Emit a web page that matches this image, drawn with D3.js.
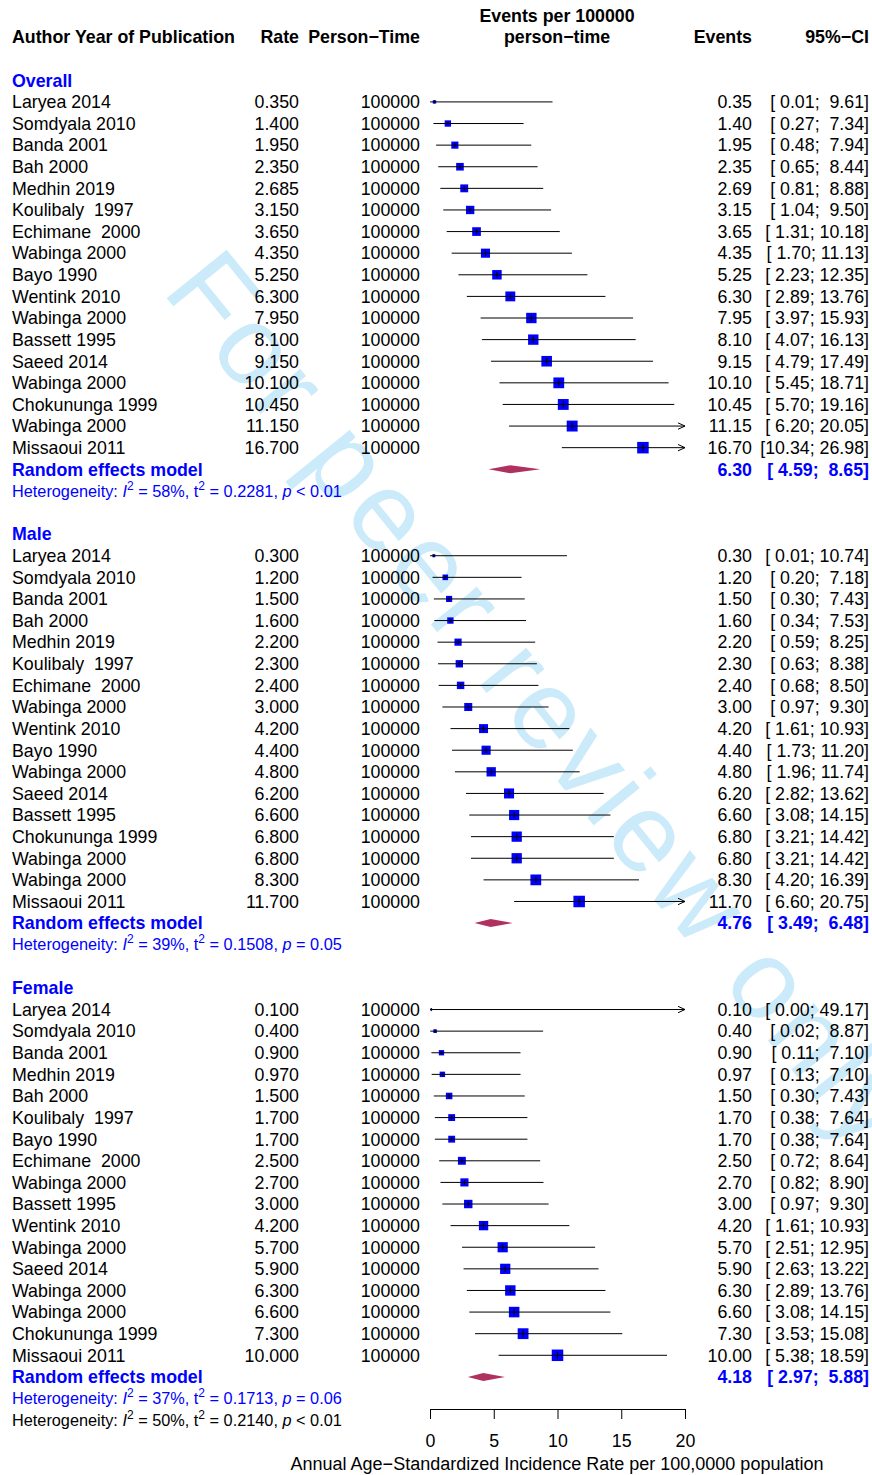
<!DOCTYPE html>
<html>
<head>
<meta charset="utf-8">
<script src="https://cdn.jsdelivr.net/npm/d3@7/dist/d3.min.js"></script>
<style>
  html, body { margin: 0; padding: 0; background: #fff; }
  svg text { white-space: pre; }
</style>
</head>
<body>
<svg id="chart" width="872" height="1475"></svg>
<script>
// ---- Study data -------------------------------------------------------
const authorsOverall = ["Laryea 2014", "Somdyala 2010", "Banda 2001", "Bah 2000", "Medhin 2019",
  "Koulibaly  1997", "Echimane  2000", "Wabinga 2000", "Bayo 1990", "Wentink 2010", "Wabinga 2000",
  "Bassett 1995", "Saeed 2014", "Wabinga 2000", "Chokununga 1999", "Wabinga 2000", "Missaoui 2011"];
const rateOverall = [0.35, 1.4, 1.95, 2.35, 2.685, 3.15, 3.65, 4.35, 5.25, 6.3, 7.95, 8.1, 9.15, 10.1, 10.45, 11.15, 16.7];
const lowerOverall = [0.01, 0.27, 0.48, 0.65, 0.81, 1.04, 1.31, 1.70, 2.23, 2.89, 3.97, 4.07, 4.79, 5.45, 5.70, 6.20, 10.34];
const upperOverall = [9.61, 7.34, 7.94, 8.44, 8.88, 9.50, 10.18, 11.13, 12.35, 13.76, 15.93, 16.13, 17.49, 18.71, 19.16, 20.05, 26.98];
const weightOverall = [0.8, 2.8, 3.5, 4.0, 4.3, 4.8, 5.2, 5.7, 6.2, 6.7, 7.4, 7.4, 7.7, 8.0, 8.1, 8.2, 9.1];
const pooledOverall = [6.30, 4.59, 8.65];

const authorsMale = ["Laryea 2014", "Somdyala 2010", "Banda 2001", "Bah 2000", "Medhin 2019",
  "Koulibaly  1997", "Echimane  2000", "Wabinga 2000", "Wentink 2010", "Bayo 1990", "Wabinga 2000",
  "Saeed 2014", "Bassett 1995", "Chokununga 1999", "Wabinga 2000", "Wabinga 2000", "Missaoui 2011"];
const rateMale = [0.3, 1.2, 1.5, 1.6, 2.2, 2.3, 2.4, 3.0, 4.2, 4.4, 4.8, 6.2, 6.6, 6.8, 6.8, 8.3, 11.7];
const lowerMale = [0.01, 0.20, 0.30, 0.34, 0.59, 0.63, 0.68, 0.97, 1.61, 1.73, 1.96, 2.82, 3.08, 3.21, 3.21, 4.20, 6.60];
const upperMale = [10.74, 7.18, 7.43, 7.53, 8.25, 8.38, 8.50, 9.30, 10.93, 11.20, 11.74, 13.62, 14.15, 14.42, 14.42, 16.39, 20.75];
const weightMale = [0.7, 2.5, 3.0, 3.2, 4.1, 4.3, 4.4, 5.1, 6.4, 6.6, 6.9, 8.0, 8.2, 8.4, 8.4, 9.2, 10.5];
const pooledMale = [4.76, 3.49, 6.48];

const authorsFemale = ["Laryea 2014", "Somdyala 2010", "Banda 2001", "Medhin 2019", "Bah 2000",
  "Koulibaly  1997", "Bayo 1990", "Echimane  2000", "Wabinga 2000", "Bassett 1995", "Wentink 2010",
  "Wabinga 2000", "Saeed 2014", "Wabinga 2000", "Wabinga 2000", "Chokununga 1999", "Missaoui 2011"];
const rateFemale = [0.1, 0.4, 0.9, 0.97, 1.5, 1.7, 1.7, 2.5, 2.7, 3.0, 4.2, 5.7, 5.9, 6.3, 6.6, 7.3, 10.0];
const lowerFemale = [0.00, 0.02, 0.11, 0.13, 0.30, 0.38, 0.38, 0.72, 0.82, 0.97, 1.61, 2.51, 2.63, 2.89, 3.08, 3.53, 5.38];
const upperFemale = [49.17, 8.87, 7.10, 7.10, 7.43, 7.64, 7.64, 8.64, 8.90, 9.30, 10.93, 12.95, 13.22, 13.76, 14.15, 15.08, 18.59];
const weightFemale = [0.3, 1.1, 2.4, 2.5, 3.6, 4.0, 4.0, 5.3, 5.6, 6.0, 7.4, 8.8, 8.9, 9.2, 9.4, 9.9, 11.2];
const pooledFemale = [4.18, 2.97, 5.88];

const personTime = 100000;
const groupNames = ["Overall", "Male", "Female"];
const hetI2 = ["58%", "39%", "37%", "50%"];
const hetTau2 = ["0.2281", "0.1508", "0.1713", "0.2140"];
const hetP = ["< 0.01", "= 0.05", "= 0.06", "< 0.01"];

const xTicks = [0, 5, 10, 15, 20];
const xTitle = "Annual Age\u2212Standardized Incidence Rate per 100,0000 population";

// ---- Layout -----------------------------------------------------------
const FONT = "'Liberation Sans', Arial, Helvetica, sans-serif";
const FS = 17.8, FS_HET = 16.3;
const BLUE = "#0000ff", DIAMOND = "#b03060";
const rowH = 21.61, row0 = 80.3;
const rowY = i => row0 + i * rowH;
const colAuthor = 12, colRate = 299, colPT = 420, colEvents = 752, colCI = 869;

const svg = d3.select("#chart");
const x = d3.scaleLinear().domain([0, 20]).range([430, 685]);

const f2 = d3.format(".2f"), f3 = d3.format(".3f");
const ciText = (lo, hi) => "[" + f2(lo).padStart(5, " ") + "; " + f2(hi).padStart(5, " ") + "]";

// Watermark behind the plot
svg.append("text")
  .attr("transform", "translate(161,291) rotate(51)")
  .attr("font-family", FONT).attr("font-size", 112)
  .attr("textLength", 1110).attr("lengthAdjust", "spacing")
  .attr("fill", "#cbeafa")
  .text("For peer review only");

function label(xp, yc, str, opts = {}) {
  return svg.append("text")
    .attr("x", xp).attr("y", yc + (opts.fs || FS) * 0.355)
    .attr("font-family", FONT).attr("font-size", opts.fs || FS)
    .attr("font-weight", opts.bold ? "bold" : "normal")
    .attr("text-anchor", opts.anchor || "start")
    .attr("fill", opts.color || "#000")
    .text(str);
}

// Column headers
label(colAuthor, rowY(-2), "Author Year of Publication", { bold: true });
label(colRate, rowY(-2), "Rate", { bold: true, anchor: "end" });
label(colPT, rowY(-2), "Person\u2212Time", { bold: true, anchor: "end" });
label(557, rowY(-3), "Events per 100000", { bold: true, anchor: "middle" });
label(557, rowY(-2), "person\u2212time", { bold: true, anchor: "middle" });
label(colEvents, rowY(-2), "Events", { bold: true, anchor: "end" });
label(colCI, rowY(-2), "95%\u2212CI", { bold: true, anchor: "end" });

function hetLine(yc, k, color) {
  const t = svg.append("text")
    .attr("x", colAuthor).attr("y", yc + FS_HET * 0.355)
    .attr("font-family", FONT).attr("font-size", FS_HET)
    .attr("fill", color);
  t.append("tspan").text("Heterogeneity: ");
  t.append("tspan").attr("font-style", "italic").text("I");
  t.append("tspan").attr("font-size", 12).attr("dy", -7).text("2");
  t.append("tspan").attr("dy", 7).text(" = " + hetI2[k] + ", t");
  t.append("tspan").attr("font-size", 12).attr("dy", -7).text("2");
  t.append("tspan").attr("dy", 7).text(" = " + hetTau2[k] + ", ");
  t.append("tspan").attr("font-style", "italic").text("p");
  t.append("tspan").text(" " + hetP[k]);
}

const groups = [
  { authors: authorsOverall, rate: rateOverall, lower: lowerOverall, upper: upperOverall, weight: weightOverall, pooled: pooledOverall },
  { authors: authorsMale, rate: rateMale, lower: lowerMale, upper: upperMale, weight: weightMale, pooled: pooledMale },
  { authors: authorsFemale, rate: rateFemale, lower: lowerFemale, upper: upperFemale, weight: weightFemale, pooled: pooledFemale }
];

const plot = svg.append("g");
const maxSide = 11.5;
const xMax = x.domain()[1];

groups.forEach((g, gi) => {
  const start = gi * 21;
  label(colAuthor, rowY(start), groupNames[gi], { bold: true, color: BLUE });
  const maxW = d3.max(g.weight);

  g.authors.forEach((a, j) => {
    const yc = rowY(start + 1 + j);
    label(colAuthor, yc, a);
    label(colRate, yc, f3(g.rate[j]), { anchor: "end" });
    label(colPT, yc, String(personTime), { anchor: "end" });
    label(colEvents, yc, f2(g.rate[j]), { anchor: "end" });
    label(colCI, yc, ciText(g.lower[j], g.upper[j]), { anchor: "end" });

    const x1 = x(g.lower[j]), x2 = x(Math.min(g.upper[j], xMax));
    const side = maxSide * Math.sqrt(g.weight[j] / maxW);
    const cx = x(g.rate[j]);
    plot.append("rect")
      .attr("x", cx - side / 2).attr("y", yc - side / 2)
      .attr("width", side).attr("height", side)
      .attr("fill", BLUE);
    plot.append("line")
      .attr("x1", x1).attr("x2", x2).attr("y1", yc).attr("y2", yc)
      .attr("stroke", "#000").attr("stroke-width", 1);
    plot.append("line")
      .attr("x1", cx).attr("x2", cx)
      .attr("y1", yc - Math.max(side * 0.3, 1.5)).attr("y2", yc + Math.max(side * 0.3, 1.5))
      .attr("stroke", "#000").attr("stroke-width", 1);
    if (g.upper[j] > xMax) {
      plot.append("path")
        .attr("d", `M${x2 - 7},${yc - 3.2}L${x2},${yc}L${x2 - 7},${yc + 3.2}`)
        .attr("fill", "none").attr("stroke", "#000").attr("stroke-width", 1);
    }
  });

  // Pooled random-effects estimate
  const yr = rowY(start + 18);
  label(colAuthor, yr, "Random effects model", { bold: true, color: BLUE });
  label(colEvents, yr, f2(g.pooled[0]), { bold: true, color: BLUE, anchor: "end" });
  label(colCI, yr, ciText(g.pooled[1], g.pooled[2]), { bold: true, color: BLUE, anchor: "end" });
  const dx = x(g.pooled[0]), dl = x(g.pooled[1]), dr = x(g.pooled[2]);
  plot.append("path")
    .attr("d", `M${dl},${yr}L${dx},${yr - 4}L${dr},${yr}L${dx},${yr + 4}Z`)
    .attr("fill", DIAMOND);

  hetLine(rowY(start + 19), gi, BLUE);
});

hetLine(rowY(62), 3, "#000");

// X axis
const axisY = 1409;
const axis = svg.append("g")
  .attr("transform", `translate(0,${axisY})`)
  .call(d3.axisBottom(x).tickValues(xTicks).tickSize(10).tickSizeOuter(10).tickPadding(15).tickFormat(d3.format("d")));
axis.selectAll("text").attr("font-family", FONT).attr("font-size", FS).attr("fill", "#000");
axis.selectAll("line, path").attr("stroke", "#000");

svg.append("text")
  .attr("x", 557).attr("y", 1470)
  .attr("font-family", FONT).attr("font-size", 18)
  .attr("text-anchor", "middle")
  .text(xTitle);
</script>
</body>
</html>
